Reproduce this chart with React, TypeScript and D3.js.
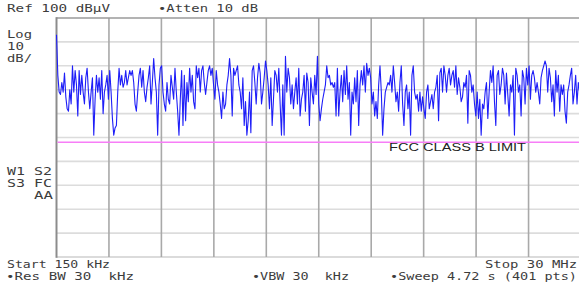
import { useEffect, useRef } from "react";
import * as d3 from "d3";

const W = 579;
const H = 289;

// plot frame (10 x 10 divisions); right edge runs just past the window
const X0 = 56.5;
const X1 = 581;
const Y0 = 18;
const Y1 = 257;

const START_MHZ = 0.15;
const STOP_MHZ = 30;
const REF_DBUV = 100;
const DB_PER_DIV = 10;
const LIMIT_DBUV = 48;

// sweep trace, dBµV, read left to right
const traceA = [
  93, 76, 69, 68, 73, 69, 77, 67, 62, 61,
  70, 64, 80, 69, 78, 72, 59, 78, 68, 76,
  69, 64, 75, 79, 69, 62, 69, 75, 51, 66,
  76, 69, 75, 66, 78, 60, 69, 72, 76, 66,
  78, 69, 58, 51, 54, 55, 69, 79, 72, 76,
  71, 73, 78, 72, 75, 78, 76, 78, 73, 64,
  61, 69, 76, 79, 71, 78, 69, 65, 71, 75,
  80, 64, 73, 83, 75, 69, 51, 72, 79, 80,
  69, 64, 61, 73, 66, 64, 76, 71, 66, 79,
  69, 61, 51, 66, 78, 55, 76,
];
const traceB = [
  57, 73, 65, 79, 69, 76, 65, 62, 80, 75,
  79, 69, 78, 80, 73, 68, 73, 78, 80, 76,
  79, 72, 66, 78, 72, 69, 64, 58, 69, 62,
  64, 72, 76, 83, 76, 59, 79, 76, 78, 80,
  72, 69, 62, 75, 55, 65, 51, 57, 69, 52,
  78, 80, 73, 64, 75, 81, 77, 64, 69, 75,
  82, 78, 72, 62, 75, 55, 66, 78, 76, 69,
  79, 64, 51, 72, 51, 84, 69, 79, 75, 64,
  72, 62, 69, 75, 64, 79, 59, 66, 69, 76,
  61, 77, 73, 55, 75, 69, 64, 76,
];
const traceC = [
  68, 84, 64, 57, 62, 66, 69, 72, 80, 75,
  76, 72, 73, 71, 73, 59, 79, 59, 69, 76,
  65, 78, 68, 80, 66, 73, 51, 69, 64, 75,
  65, 78, 55, 72, 78, 72, 80, 69, 81, 76,
  79, 75, 64, 69, 59, 65, 58, 72, 80, 69,
  51, 62, 69, 71, 73, 72, 76, 69, 80, 73,
  65, 69, 61, 73, 80, 64, 55, 69, 72, 62,
  69, 51, 76, 80, 69, 66, 68, 61, 69, 61,
  67, 62, 58, 69, 72, 62, 65, 68, 62, 69,
  71, 76, 57, 77, 79, 69, 80, 76,
];
const traceD = [
  69, 76, 79, 72, 76, 78, 71, 80, 68, 75,
  71, 65, 67, 73, 71, 76, 56, 78, 76, 69,
  72, 64, 59, 69, 58, 66, 51, 64, 62, 69,
  73, 58, 69, 78, 73, 80, 65, 55, 76, 78,
  68, 72, 79, 76, 64, 77, 68, 59, 72, 69,
  76, 51, 79, 76, 69, 72, 59, 78, 75, 64,
  79, 72, 80, 66, 76, 78, 75, 69, 73, 69,
  64, 75, 78, 80, 82, 80, 69, 79, 75, 65,
  72, 59, 78, 69, 76, 61, 72, 68, 72, 61,
  56, 69, 72, 76, 79, 64, 69, 76, 64, 73,
  69, 72,
];

const FONT = "'DejaVu Sans Mono', monospace";
const INK = "#3c3c3c";

export default function App() {
  const svgRef = useRef<SVGSVGElement>(null);

  useEffect(() => {
    if (!svgRef.current) return;
    const svg = d3.select(svgRef.current);
    svg.selectAll("*").remove();

    const x = d3.scaleLinear().domain([START_MHZ, STOP_MHZ]).range([X0, X1]);
    const y = d3.scaleLinear().domain([REF_DBUV - 10 * DB_PER_DIV, REF_DBUV]).range([Y1, Y0]);

    svg.append("rect").attr("width", W).attr("height", H).attr("fill", "#fff");

    // ── grid ──────────────────────────────────────────────────────────────
    const yTicks = d3.range(0, 11).map(i => REF_DBUV - i * DB_PER_DIV);
    const xTicks = d3.range(0, 11).map(i => START_MHZ + (i * (STOP_MHZ - START_MHZ)) / 10);

    svg.append("g").selectAll("line")
      .data(yTicks.slice(1, 10))
      .join("line")
      .attr("x1", X0).attr("x2", X1)
      .attr("y1", d => y(d)).attr("y2", d => y(d))
      .attr("stroke", "#dcdcdc").attr("stroke-width", 1.6);

    svg.append("line")
      .attr("x1", X0).attr("x2", X1).attr("y1", Y1).attr("y2", Y1)
      .attr("stroke", "#cfcfcf").attr("stroke-width", 1.6);

    svg.append("g").selectAll("line")
      .data(xTicks.slice(1))
      .join("line")
      .attr("x1", d => x(d)).attr("x2", d => x(d))
      .attr("y1", Y0).attr("y2", Y1)
      .attr("stroke", "#a9a9a9").attr("stroke-width", 1.6);

    svg.append("line")
      .attr("x1", X0).attr("x2", X1).attr("y1", Y0).attr("y2", Y0)
      .attr("stroke", "#9a9a9a").attr("stroke-width", 1.6);
    svg.append("line")
      .attr("x1", X0).attr("x2", X0).attr("y1", Y0 - 0.8).attr("y2", Y1 + 0.8)
      .attr("stroke", "#8c8c8c").attr("stroke-width", 2);

    // ── limit line ────────────────────────────────────────────────────────
    svg.append("line")
      .attr("x1", X0 + 1).attr("x2", X1).attr("y1", y(LIMIT_DBUV)).attr("y2", y(LIMIT_DBUV))
      .attr("stroke", "#f77ef7").attr("stroke-width", 1.6);

    svg.append("text")
      .attr("x", 389).attr("y", 150.5)
      .attr("textLength", 137).attr("lengthAdjust", "spacingAndGlyphs")
      .attr("font-family", "'Liberation Sans', Arial, sans-serif")
      .attr("font-size", 10).attr("fill", "#222")
      .text("FCC CLASS B LIMIT");

    // ── trace ─────────────────────────────────────────────────────────────
    const levels = [...traceA, ...traceB, ...traceC, ...traceD];
    const n = levels.length;
    const pts: [number, number][] = levels.map((v, i) => [
      START_MHZ + (i * (STOP_MHZ - START_MHZ)) / (n - 1),
      v,
    ]);
    const line = d3.line<[number, number]>().x(d => x(d[0])).y(d => y(d[1]));
    svg.append("path")
      .attr("d", line(pts))
      .attr("fill", "none")
      .attr("stroke", "#1e1ef8")
      .attr("stroke-width", 1.1)
      .attr("stroke-linejoin", "round");

    // ── annotations ───────────────────────────────────────────────────────
    const label = (tx: number, ty: number, s: string, len: number, anchor = "start") =>
      svg.append("text")
        .attr("x", tx).attr("y", ty)
        .attr("text-anchor", anchor)
        .attr("textLength", len).attr("lengthAdjust", "spacingAndGlyphs")
        .attr("font-family", FONT).attr("font-size", 10)
        .attr("fill", INK)
        .style("white-space", "pre")
        .text(s);

    label(7, 12, "Ref 100 dBµV", 103);
    label(158, 12, "•Atten 10 dB", 100);
    label(7, 38, "Log", 25);
    label(7, 50, "10", 17);
    label(7, 62, "dB/", 25);
    label(7, 175, "W1 S2", 45);
    label(7, 187, "S3 FC", 45);
    label(34, 199, "AA", 19);
    label(7, 268, "Start 150 kHz", 103);
    label(577, 268, "Stop 30 MHz", 92, "end");
    label(6, 280, "•Res BW 30  kHz", 128);
    label(252, 280, "•VBW 30  kHz", 97);
    label(577, 280, "•Sweep 4.72 s (401 pts)", 187, "end");
  }, []);

  return (
    <svg
      ref={svgRef}
      width={W}
      height={H}
      viewBox={`0 0 ${W} ${H}`}
      style={{ position: "fixed", left: 0, top: 0, display: "block" }}
    />
  );
}
